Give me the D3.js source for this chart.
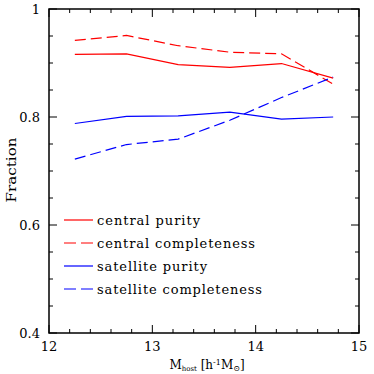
<!DOCTYPE html>
<html><head><meta charset="utf-8">
<script src="https://cdn.jsdelivr.net/npm/d3@7"></script>
<style>body{margin:0;background:#fff}svg{display:block}text{font-family:"DejaVu Serif",serif;fill:#000}</style>
</head><body><svg id="c" width="374" height="374"></svg>
<script>
const massBins = [12.25, 12.75, 13.25, 13.75, 14.25, 14.75];
const centralPurity = [0.916, 0.917, 0.897, 0.892, 0.899, 0.872];
const centralCompleteness = [0.942, 0.951, 0.932, 0.920, 0.917, 0.861];
const satellitePurity = [0.788, 0.801, 0.802, 0.809, 0.796, 0.800];
const satelliteCompleteness = [0.722, 0.749, 0.759, 0.794, 0.836, 0.874];
const seriesNames = ["central purity", "central completeness", "satellite purity", "satellite completeness"];
const xTicks = [12, 13, 14, 15];
const yTicks = [0.4, 0.6, 0.8, 1];

const svg = d3.select("#c");
const L = 49, R = 359, T = 9, B = 333;
const x = d3.scaleLinear().domain([12, 15]).range([L, R]);
const y = d3.scaleLinear().domain([0.4, 1]).range([B, T]);

const series = [
  {name: seriesNames[0], vals: centralPurity, color: "#ff0000", dash: null, w: 103},
  {name: seriesNames[1], vals: centralCompleteness, color: "#ff0000", dash: "11,5", w: 158},
  {name: seriesNames[2], vals: satellitePurity, color: "#0000ff", dash: null, w: 110},
  {name: seriesNames[3], vals: satelliteCompleteness, color: "#0000ff", dash: "11,5", w: 165}
];

const line = d3.line().x(d => x(d[0])).y(d => y(d[1]));
series.forEach(s => {
  svg.append("path").attr("d", line(massBins.map((m, i) => [m, s.vals[i]])))
    .attr("fill", "none").attr("stroke", s.color).attr("stroke-width", 1.2)
    .attr("stroke-dasharray", s.dash);
});

// ticks
const g = svg.append("g").attr("stroke", "#000").attr("stroke-width", 1);
const xMinor = d3.range(12, 15.001, 0.2);
xMinor.forEach(v => {
  const major = Math.abs(v - Math.round(v)) < 1e-6;
  const len = major ? 8 : 4;
  g.append("line").attr("x1", x(v)).attr("x2", x(v)).attr("y1", B).attr("y2", B - len);
  g.append("line").attr("x1", x(v)).attr("x2", x(v)).attr("y1", T).attr("y2", T + len);
});
const yMinor = d3.range(0.4, 1.0001, 0.05);
yMinor.forEach(v => {
  const major = Math.abs(v * 5 - Math.round(v * 5)) < 1e-6;
  const len = major ? 8 : 4;
  g.append("line").attr("y1", y(v)).attr("y2", y(v)).attr("x1", L).attr("x2", L + len);
  g.append("line").attr("y1", y(v)).attr("y2", y(v)).attr("x1", R).attr("x2", R - len);
});
svg.append("rect").attr("x", L).attr("y", T).attr("width", R - L).attr("height", B - T)
  .attr("fill", "none").attr("stroke", "#000").attr("stroke-width", 1.5);

// tick labels
xTicks.forEach(v => {
  svg.append("text").attr("x", x(v)).attr("y", 351).attr("text-anchor", "middle")
    .attr("font-size", 13).text(v);
});
yTicks.forEach(v => {
  svg.append("text").attr("x", 40).attr("y", y(v) + 5).attr("text-anchor", "end")
    .attr("font-size", 13).text(v === 1 ? "1" : d3.format(".1f")(v));
});

// axis titles
svg.append("text").attr("transform", "translate(16,170) rotate(-90)").attr("text-anchor", "middle")
  .attr("font-size", 12).attr("textLength", 65).attr("lengthAdjust", "spacingAndGlyphs").text("Fraction");
const xt = svg.append("text").attr("x", 207).attr("y", 369).attr("text-anchor", "middle").attr("font-size", 12);
xt.append("tspan").text("M");
xt.append("tspan").attr("font-size", 7).attr("dy", 2).text("host");
xt.append("tspan").attr("dy", -2).text("  [h");
xt.append("tspan").attr("font-size", 8).attr("dy", -4).text("-1");
xt.append("tspan").attr("dy", 4).text("M");
xt.append("tspan").attr("font-size", 8).attr("dy", 2).text("⊙");
xt.append("tspan").attr("dy", -2).text("]");

// legend
series.forEach((s, i) => {
  const ly = 220 + i * 23;
  svg.append("line").attr("x1", 64).attr("x2", 93).attr("y1", ly).attr("y2", ly)
    .attr("stroke", s.color).attr("stroke-width", 1.2).attr("stroke-dasharray", s.dash ? "12,5" : null);
  svg.append("text").attr("x", 97).attr("y", ly + 5).attr("font-size", 13)
    .attr("textLength", s.w).attr("lengthAdjust", "spacing").text(s.name);
});
</script></body></html>
